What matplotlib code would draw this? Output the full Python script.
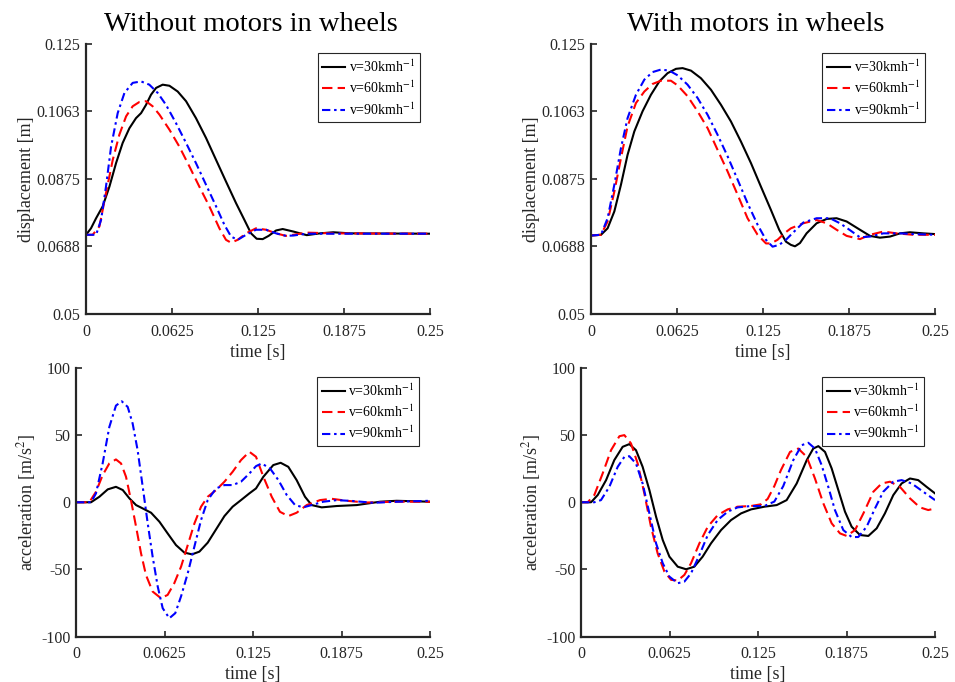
import numpy as np
import matplotlib
matplotlib.use('Agg')
import matplotlib.pyplot as plt

plt.rcParams['font.family'] = ['Liberation Serif', 'DejaVu Serif']
plt.rcParams['mathtext.fontset'] = 'stix'
plt.rcParams['axes.unicode_minus'] = False

labels = ['v=30kmh$^{-1}$', 'v=60kmh$^{-1}$', 'v=90kmh$^{-1}$']
colors = ['black', 'red', 'blue']
styles = ['-', (0, (5, 2.5)), (0, (4, 1.8, 1.2, 1.8))]

time_ticks = [0, 0.0625, 0.125, 0.1875, 0.25]
time_tick_labels = ['0', '0.0625', '0.125', '0.1875', '0.25']
disp_ticks = [0.05, 0.0688, 0.0875, 0.1063, 0.125]
disp_tick_labels = ['0.05', '0.0688', '0.0875', '0.1063', '0.125']
acc_ticks = [-100, -50, 0, 50, 100]

# displacement, without motors in wheels
t_d1_30 = [0, .0036, .0073, .0121, .0170, .0218, .0266, .0315, .0363, .0400, .0436, .0472, .0509,
           .0557, .0606, .0666, .0727, .0799, .0872, .0945, .1017, .1090, .1150, .1199, .1240,
           .1284, .1327, .1381, .1429, .1507, .1604, .1701, .1797, .1919, .25]
d1_30 = [.0720, .0738, .0766, .0799, .0854, .0919, .0975, .1016, .1044, .1058, .1081, .1109, .1128,
         .1137, .1134, .1118, .1091, .1044, .0989, .0928, .0868, .0808, .0762, .0724, .0709,
         .0708, .0717, .0732, .0736, .0729, .0719, .0724, .0727, .0724, .0723]
t_d1_60 = [0, .0048, .0097, .0145, .0194, .0242, .0291, .0339, .0388, .0436, .0484, .0533, .0606,
           .0678, .0751, .0823, .0896, .0969, .1017, .1054, .1102, .1163, .1235, .1308, .1381,
           .1453, .1507, .1604, .1797, .25]
d1_60 = [.0720, .0720, .0743, .0836, .0928, .0998, .1049, .1077, .1089, .1091, .1077, .1054, .1012,
         .0965, .0910, .0854, .0799, .0738, .0706, .0698, .0706, .0724, .0738, .0734, .0724,
         .0717, .0720, .0726, .0724, .0723]
t_d1_90 = [0, .0073, .0109, .0145, .0182, .0230, .0279, .0339, .0400, .0460, .0521, .0581, .0654,
           .0727, .0799, .0872, .0945, .1005, .1054, .1102, .1163, .1235, .1308, .1381, .1453,
           .1507, .1604, .25]
d1_90 = [.0720, .0720, .0761, .0854, .0965, .1058, .1114, .1142, .1146, .1137, .1114, .1081, .1030,
         .0975, .0919, .0859, .0799, .0748, .0715, .0706, .0720, .0734, .0734, .0724, .0717,
         .0718, .0723, .0723]

# displacement, with motors in wheels
t_d2_30 = [0, .0073, .0121, .0170, .0218, .0266, .0315, .0375, .0436, .0497, .0557, .0618, .0666,
           .0727, .0799, .0872, .0945, .1017, .1090, .1163, .1235, .1308, .1368, .1417, .1453,
           .1483, .1519, .1567, .1640, .1713, .1785, .1858, .1955, .2028, .2100, .2173, .2246,
           .2318, .2415, .25]
d2_30 = [.0718, .0720, .0738, .0785, .0859, .0942, .1007, .1063, .1109, .1146, .1169, .1181, .1183,
         .1176, .1155, .1123, .1081, .1035, .0979, .0919, .0854, .0789, .0734, .0701, .0692,
         .0688, .0697, .0724, .0752, .0764, .0766, .0757, .0734, .0717, .0712, .0715, .0724,
         .0727, .0724, .0722]
t_d2_60 = [0, .0073, .0121, .0170, .0218, .0266, .0327, .0388, .0448, .0509, .0581, .0630, .0702,
           .0775, .0848, .0920, .0993, .1066, .1138, .1211, .1272, .1308, .1356, .1405, .1453,
           .1543, .1640, .1713, .1785, .1858, .1955, .2028, .2125, .2221, .2343, .25]
d2_60 = [.0718, .0720, .0757, .0840, .0933, .1021, .1086, .1118, .1139, .1148, .1148, .1135, .1105,
         .1063, .1016, .0956, .0896, .0831, .0766, .0720, .0696, .0696, .0706, .0724, .0738,
         .0752, .0761, .0752, .0734, .0717, .0708, .0720, .0729, .0724, .0720, .0720]
t_d2_90 = [0, .0073, .0121, .0170, .0218, .0266, .0327, .0388, .0448, .0509, .0569, .0630, .0702,
           .0775, .0848, .0920, .0993, .1066, .1138, .1211, .1272, .1320, .1368, .1417, .1453,
           .1543, .1640, .1737, .1810, .1882, .1955, .2028, .2125, .2246, .2343, .25]
d2_90 = [.0718, .0720, .0766, .0859, .0961, .1044, .1109, .1151, .1172, .1179, .1176, .1163, .1137,
         .1100, .1053, .0998, .0938, .0873, .0808, .0748, .0706, .0687, .0692, .0706, .0720,
         .0754, .0766, .0766, .0752, .0733, .0713, .0715, .0724, .0724, .0722, .0720]

# acceleration, without motors in wheels
t_a1_30 = [0, .0106, .0165, .0224, .0282, .0330, .0377, .0424, .0471, .0530, .0589, .0647, .0706,
           .0765, .0819, .0871, .0930, .0989, .1048, .1106, .1165, .1224, .1271, .1323, .1393,
           .1445, .1499, .1558, .1617, .1664, .1735, .1841, .1982, .2147, .2264, .25]
a1_30 = [0, 0, 4.1, 9.6, 11.5, 9.1, 2.9, -2.1, -4.6, -7.8, -14.5, -23.2, -31.9, -37.5, -38.8,
         -36.8, -30.1, -20.2, -10.3, -3.3, 1.6, 6.6, 10.3, 19, 27.7, 29.4, 26.4, 16.5, 4.1, -2.1,
         -3.8, -2.8, -2.1, 0.4, 1.1, 0.4]
t_a1_60 = [0, .0094, .0141, .0188, .0235, .0282, .0318, .0353, .0388, .0424, .0459, .0494, .0541,
           .0600, .0647, .0694, .0742, .0789, .0836, .0883, .0930, .0989, .1048, .1106, .1165,
           .1224, .1271, .1323, .1382, .1440, .1499, .1558, .1629, .1723, .1805, .1911, .2050,
           .2250, .25]
a1_60 = [0, 0, 7.8, 20.2, 28.9, 31.9, 28.9, 19, 1.6, -18.2, -38, -54.2, -66.5, -71.5, -69, -60.3,
         -47.9, -31.9, -15.8, -3.3, 4.1, 9.1, 15.3, 22.7, 31.4, 37.6, 33.9, 19, 4.1, -7.1, -10.3,
         -7.8, -2.1, 1.6, 2.6, 1.1, -0.2, 0.4, 0.4]
t_a1_90 = [0, .0106, .0141, .0188, .0235, .0282, .0323, .0365, .0400, .0435, .0471, .0506, .0541,
           .0577, .0612, .0659, .0701, .0742, .0789, .0836, .0883, .0930, .0989, .1048, .1106,
           .1165, .1224, .1271, .1311, .1370, .1429, .1488, .1547, .1605, .1664, .1746, .1841,
           .1958, .2099, .2264, .25]
a1_90 = [0, 0, 6.6, 28.9, 56, 72, 75.2, 71, 58.6, 38.8, 11.5, -15.5, -40.5, -62.8, -78.9, -86.4,
         -82.6, -70, -52.9, -33, -13.2, 1.6, 10.3, 12.8, 12.8, 15.3, 21.4, 26.9, 28.9, 25.2, 16.5,
         5.4, -2.1, -3.8, -2.1, 0.4, 1.6, 0.9, -0.4, 0.4, 1.1]

# acceleration, with motors in wheels
t_a2_30 = [0, .0071, .0118, .0177, .0235, .0294, .0341, .0388, .0435, .0483, .0530, .0577, .0624,
           .0683, .0742, .0800, .0859, .0918, .0989, .1059, .1130, .1201, .1295, .1382, .1452,
           .1523, .1594, .1640, .1676, .1723, .1770, .1817, .1864, .1911, .1970, .2029, .2088,
           .2146, .2205, .2264, .2323, .2381, .2440, .25]
a2_30 = [0, 0, 5.4, 16.5, 31.4, 41.3, 43.3, 38.8, 26.4, 9, -10.8, -28.1, -40.5, -48, -49.9, -48,
         -40.5, -30.6, -20.7, -13.3, -8.3, -5.3, -3.3, -2.1, 1.6, 14, 31.4, 40, 41.8, 37.5, 25.2,
         9.1, -7, -18.2, -24.4, -25.1, -19.4, -8.3, 5.3, 14, 17.7, 16.5, 11.5, 6.6]
t_a2_60 = [0, .0047, .0094, .0153, .0212, .0271, .0306, .0353, .0400, .0447, .0494, .0541, .0589,
           .0636, .0683, .0730, .0777, .0836, .0895, .0965, .1036, .1106, .1201, .1271, .1318,
           .1365, .1412, .1476, .1534, .1594, .1652, .1711, .1770, .1829, .1876, .1935, .1994,
           .2064, .2123, .2182, .2252, .2323, .2393, .2452, .25]
a2_60 = [0, 0, 5.4, 21.5, 38.8, 49.2, 50, 43.8, 28.9, 6.6, -18.2, -38, -51.7, -57.8, -58.3, -54.1,
         -45.4, -30.6, -18.2, -9.6, -5.3, -3.3, -2.8, -1.5, 2.5, 12, 24, 37.5, 40, 33.8, 17.7,
         -0.8, -15.7, -23.2, -25.1, -20.7, -8.3, 7.8, 14, 15.3, 11.5, 2.9, -3.8, -5.8, -4.6]
t_a2_90 = [0, .0094, .0141, .0200, .0259, .0306, .0341, .0388, .0435, .0483, .0530, .0577, .0624,
           .0683, .0730, .0777, .0836, .0895, .0965, .1036, .1106, .1201, .1295, .1365, .1428,
           .1499, .1558, .1605, .1652, .1699, .1746, .1793, .1852, .1911, .1958, .2017, .2076,
           .2134, .2205, .2264, .2335, .2417, .25]
a2_90 = [0, 0, 1.6, 11.5, 26.4, 33.8, 34.3, 28.9, 14, -8.3, -30.6, -45.4, -55.4, -60.3, -59.1,
         -52.9, -39.3, -24.4, -13.2, -7, -3.8, -2.8, -2.8, 0.5, 12, 31.4, 42.5, 44.3, 40, 27.7,
         11.5, -5.8, -20.7, -25.9, -25.9, -18.2, -4.6, 7.8, 15.3, 16.5, 14, 7.8, 1.6]


def style_axes(ax):
    for side in ['top', 'right']:
        ax.spines[side].set_visible(False)
    for side in ['left', 'bottom']:
        ax.spines[side].set_linewidth(1.6)
        ax.spines[side].set_color('#262626')
    ax.tick_params(direction='in', length=4, width=1.2, labelsize=11.5, colors='#262626')
    ax.tick_params(axis='x', pad=7)
    ax.tick_params(axis='y', pad=4)
    ax.set_xlim(0, 0.25)
    ax.set_xticks(time_ticks)
    ax.set_xticklabels(time_tick_labels)
    ax.set_xlabel('time [s]', fontsize=13, labelpad=3, color='#262626')


def add_lines(ax, series):
    for (t, v), lab, c, ls in zip(series, labels, colors, styles):
        ax.plot(t, v, color=c, linestyle=ls, linewidth=1.5, label=lab)
    leg = ax.legend(loc='upper right', bbox_to_anchor=(0.97, 0.965), fontsize=10,
                    fancybox=False, framealpha=1, edgecolor='#262626',
                    handlelength=1.65, handletextpad=0.25, borderpad=0.35,
                    labelspacing=0.35, borderaxespad=0)
    leg.get_frame().set_linewidth(0.8)


fig = plt.figure(figsize=(9.55, 6.82), dpi=100)
ax1 = fig.add_axes([0.0901, 0.5396, 0.3602, 0.3959])
ax2 = fig.add_axes([0.6188, 0.5396, 0.3602, 0.3959])
ax3 = fig.add_axes([0.0796, 0.0667, 0.3707, 0.3937])
ax4 = fig.add_axes([0.6084, 0.0667, 0.3707, 0.3937])

add_lines(ax1, [(t_d1_30, d1_30), (t_d1_60, d1_60), (t_d1_90, d1_90)])
add_lines(ax2, [(t_d2_30, d2_30), (t_d2_60, d2_60), (t_d2_90, d2_90)])
add_lines(ax3, [(t_a1_30, a1_30), (t_a1_60, a1_60), (t_a1_90, a1_90)])
add_lines(ax4, [(t_a2_30, a2_30), (t_a2_60, a2_60), (t_a2_90, a2_90)])

for ax in (ax1, ax2):
    style_axes(ax)
    ax.set_ylim(0.05, 0.125)
    ax.set_yticks(disp_ticks)
    ax.set_yticklabels(disp_tick_labels)
    ax.set_ylabel('displacement [m]', fontsize=13, labelpad=1, color='#262626')

for ax in (ax3, ax4):
    style_axes(ax)
    ax.set_ylim(-100, 100)
    ax.set_yticks(acc_ticks)
    ax.set_ylabel('acceleration [m/s$^2$]', fontsize=13, labelpad=2, color='#262626')

ax1.set_title('Without motors in wheels', fontsize=20.5, pad=9, x=0.48)
ax2.set_title('With motors in wheels', fontsize=20.5, pad=9, x=0.48)

fig.savefig('out.png', dpi=100)
